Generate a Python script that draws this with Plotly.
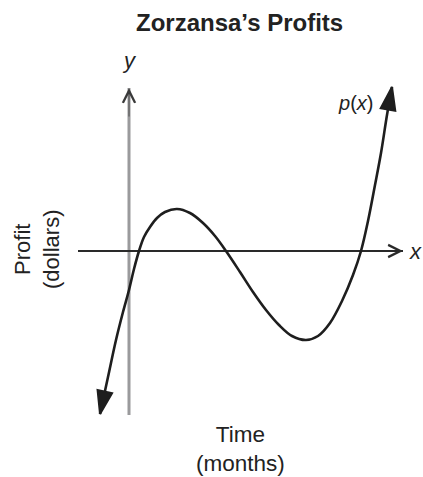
import plotly.graph_objects as go

# ---- data (time in arbitrary months units, profit in arbitrary dollar units) ----
months = [-2.9, -2.1, -1.3, -0.6, 0.0, 0.5, 1.0, 1.5, 2.1, 2.8, 3.6, 4.8, 6.1, 7.4, 8.6,
          9.7, 11.1, 12.4, 13.7, 15.0, 16.3, 17.7, 18.9, 20.1, 21.3, 22.4, 23.2, 23.9,
          24.6, 25.2, 25.8, 26.3]
profit = [-16.3, -12.6, -8.9, -6.1, -3.9, -1.8, 0.0, 1.4, 2.4, 3.3, 3.9, 4.2, 3.8, 2.8, 1.5,
          0.0, -2.1, -4.1, -5.9, -7.4, -8.5, -8.9, -8.5, -7.2, -5.0, -2.4, 0.0, 3.0,
          6.6, 9.8, 13.6, 16.4]

x_axis_extent = [-5.1, 27.4]
y_axis_extent = [-16.4, 16.3]

title_text = "Zorzansa\u2019s Profits"
x_title = "Time<br>(months)"
y_title = "Profit<br>(dollars)"

FONT = "Arial, Liberation Sans, Helvetica, sans-serif"
CURVE = "#1e1e1e"

fig = go.Figure()

# y axis (gray)
fig.add_trace(go.Scatter(x=[0, 0], y=y_axis_extent, mode="lines",
                         line=dict(color="#9a9a9c", width=3), hoverinfo="skip"))
# x axis (black)
fig.add_trace(go.Scatter(x=x_axis_extent, y=[0, 0], mode="lines",
                         line=dict(color="#2a2a2a", width=2), hoverinfo="skip"))

# curve
fig.add_trace(go.Scatter(x=months, y=profit, mode="lines", line_shape="spline",
                         line=dict(color=CURVE, width=2.6), hoverinfo="skip"))

# arrow heads at the curve ends
arrow_marker = dict(symbol="arrow", size=[0, 24], angleref="previous", opacity=1,
                    color=CURVE, line=dict(width=2, color=CURVE))
fig.add_trace(go.Scatter(x=[months[1], months[0]], y=[profit[1], profit[0]], mode="markers",
                         marker=arrow_marker, hoverinfo="skip"))
fig.add_trace(go.Scatter(x=[months[-2], months[-1]], y=[profit[-2], profit[-1]], mode="markers",
                         marker=arrow_marker, hoverinfo="skip"))

annotations = []
# open chevron arrowheads on the axes
annotations.append(dict(x=x_axis_extent[1], y=0, xref="x", yref="y", ax=-30, ay=0,
                        showarrow=True, arrowhead=5, arrowsize=3.0, arrowwidth=0.8,
                        arrowcolor="#2a2a2a", text=""))
annotations.append(dict(x=0, y=y_axis_extent[1], xref="x", yref="y", ax=0, ay=30,
                        showarrow=True, arrowhead=5, arrowsize=3.0, arrowwidth=0.8,
                        arrowcolor="#3a3a3a", text=""))

# labels
annotations.append(dict(x=0, y=19.1, xref="x", yref="y", text="<i>y</i>", showarrow=False,
                        font=dict(family=FONT, size=22, color="#222")))
annotations.append(dict(x=28.6, y=0, xref="x", yref="y", text="<i>x</i>", showarrow=False,
                        font=dict(family=FONT, size=22, color="#222")))
annotations.append(dict(x=22.6, y=14.8, xref="x", yref="y", text="<i>p</i>(<i>x</i>)",
                        showarrow=False, font=dict(family=FONT, size=20, color="#222")))
annotations.append(dict(x=11.1, y=-19.8, xref="x", yref="y", text=x_title, showarrow=False,
                        font=dict(family=FONT, size=22.5, color="#222")))
annotations.append(dict(x=-9.2, y=0.1, xref="x", yref="y", text=y_title, showarrow=False,
                        textangle=-90, font=dict(family=FONT, size=22, color="#222")))
annotations.append(dict(x=11.0, y=22.9, xref="x", yref="y", text="<b>" + title_text + "</b>",
                        showarrow=False, font=dict(family=FONT, size=24, color="#222")))

fig.update_layout(
    width=423, height=477,
    margin=dict(l=0, r=0, t=0, b=0),
    paper_bgcolor="white", plot_bgcolor="white",
    showlegend=False,
    xaxis=dict(range=[-12.9, 29.4], visible=False, fixedrange=True),
    yaxis=dict(range=[-22.6, 25.1], visible=False, fixedrange=True),
    annotations=annotations,
)

fig.write_html("out.html", config={"displayModeBar": False},
               post_script="document.body.style.margin='0';document.body.style.overflow='hidden';")
